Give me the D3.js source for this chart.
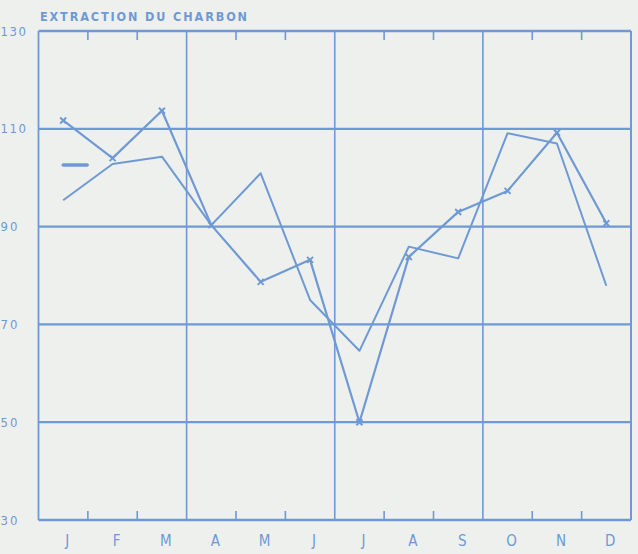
<!DOCTYPE html>
<html><head><meta charset="utf-8">
<script src="https://cdn.jsdelivr.net/npm/d3@7"></script>
<style>html,body{margin:0;padding:0;background:#eef0ee;}svg{display:block;}</style>
</head><body>
<script>
const months = ["J","F","M","A","M","J","J","A","S","O","N","D"];
const seriesMarked = [111.7,104.0,113.7,90.3,78.7,83.2,50.0,83.8,93.0,97.3,109.2,90.7];
const seriesPlain  = [95.4,102.8,104.3,90.3,100.9,75.0,64.6,85.9,83.5,109.1,107.0,77.9];
const yTicks = [30,50,70,90,110,130];
const title = "EXTRACTION DU CHARBON";

const W = 638, H = 554;
const m = {l:38.5, r:7, t:31, b:34};
const col = "#6e99d4";
const svg = d3.select("body").append("svg").attr("width",W).attr("height",H);
svg.append("rect").attr("width",W).attr("height",H).attr("fill","#eef0ee");

const idx = d3.range(months.length);
const x = d3.scaleBand().domain(idx).range([m.l, W-m.r]).paddingInner(0).paddingOuter(0);
const y = d3.scaleLinear().domain([30,130]).range([H-m.b, m.t]);
const cx = i => x(i) + x.bandwidth()/2;

// horizontal grid lines
svg.append("g").selectAll("line").data(yTicks.filter(v=>v>30 && v<130)).join("line")
  .attr("x1",m.l).attr("x2",W-m.r).attr("y1",d=>y(d)).attr("y2",d=>y(d))
  .attr("stroke",col).attr("stroke-width",2.2);
// vertical quarter lines
svg.append("g").selectAll("line").data([3,6,9]).join("line")
  .attr("x1",d=>x(d)).attr("x2",d=>x(d)).attr("y1",m.t).attr("y2",H-m.b)
  .attr("stroke",col).attr("stroke-width",1.6);
// frame
const fr = svg.append("g").attr("stroke",col).attr("fill","none");
fr.append("line").attr("x1",m.l).attr("x2",W-m.r).attr("y1",m.t).attr("y2",m.t).attr("stroke-width",2.4);
fr.append("line").attr("x1",m.l).attr("x2",W-m.r).attr("y1",H-m.b).attr("y2",H-m.b).attr("stroke-width",2.4);
fr.append("line").attr("x1",m.l).attr("x2",m.l).attr("y1",m.t).attr("y2",H-m.b).attr("stroke-width",1.8);
fr.append("line").attr("x1",W-m.r).attr("x2",W-m.r).attr("y1",m.t).attr("y2",H-m.b).attr("stroke-width",2);

// month ticks top and bottom (skip quarter lines)
const tickIdx = idx.filter(i=>i>0 && i%3!==0);
fr.selectAll(".tt").data(tickIdx).join("line").attr("class","tt")
  .attr("x1",d=>x(d)).attr("x2",d=>x(d)).attr("y1",m.t).attr("y2",m.t+9).attr("stroke-width",1.6);
fr.selectAll(".bt").data(tickIdx).join("line").attr("class","bt")
  .attr("x1",d=>x(d)).attr("x2",d=>x(d)).attr("y1",H-m.b).attr("y2",H-m.b-9).attr("stroke-width",1.6);

// y labels
svg.append("g").selectAll("text").data(yTicks).join("text")
  .attr("x",0.5).attr("y",d=>y(d)).attr("dy","0.36em")
  .attr("font-family","DejaVu Sans Condensed, DejaVu Sans").attr("font-size",13).attr("fill",col)
  .attr("letter-spacing",d=>d>=100?1.5:2)
  .text(d=>d);

// x labels
svg.append("g").selectAll("text").data(idx).join("text")
  .attr("x",i=>cx(i)+4).attr("y",546).attr("text-anchor","middle")
  .attr("font-family","DejaVu Sans Condensed, DejaVu Sans").attr("font-size",15).attr("fill",col)
  .text(i=>months[i]);

// title
svg.append("text").attr("x",40).attr("y",21)
  .attr("font-family","DejaVu Sans Condensed, DejaVu Sans").attr("font-weight","bold").attr("font-size",12.5)
  .attr("fill",col).attr("textLength",207).attr("lengthAdjust","spacing")
  .text(title);

// lines
const line = d3.line().x((d,i)=>cx(i)).y(d=>y(d));
svg.append("path").datum(seriesPlain).attr("d",line).attr("fill","none")
  .attr("stroke",col).attr("stroke-width",2).attr("stroke-linejoin","round");
svg.append("path").datum(seriesMarked).attr("d",line).attr("fill","none")
  .attr("stroke",col).attr("stroke-width",2.2).attr("stroke-linejoin","round");

// x markers
const mk = svg.append("g").attr("stroke",col).attr("stroke-width",2);
seriesMarked.forEach((v,i)=>{
  const px = cx(i), py = y(v), s = 3;
  mk.append("line").attr("x1",px-s).attr("y1",py-s).attr("x2",px+s).attr("y2",py+s);
  mk.append("line").attr("x1",px-s).attr("y1",py+s).attr("x2",px+s).attr("y2",py-s);
});

// small legend dash
svg.append("line").attr("x1",cx(0)).attr("x2",cx(0)+24)
  .attr("y1",y(102.6)).attr("y2",y(102.6))
  .attr("stroke",col).attr("stroke-width",3.5).attr("stroke-linecap","round");
</script>
</body></html>
